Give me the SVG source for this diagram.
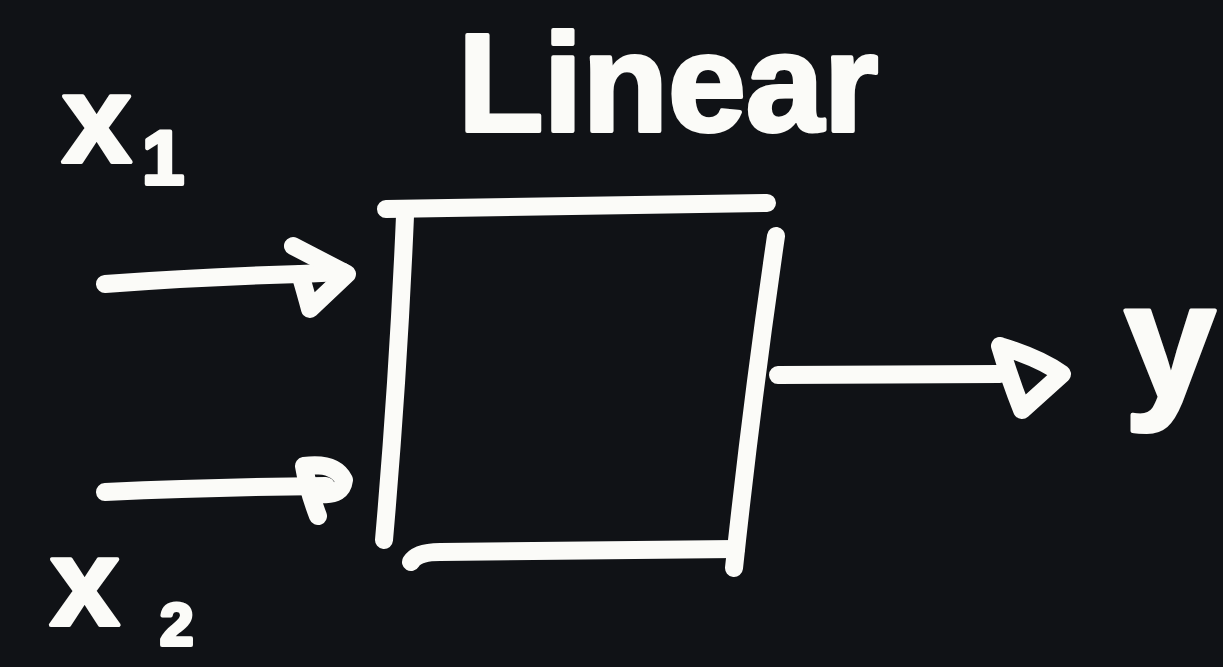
<svg xmlns="http://www.w3.org/2000/svg" width="1223" height="667" viewBox="0 0 1223 667">
<style>
.pen{fill:none;stroke:#fbfbf8;stroke-width:18;stroke-linecap:round;stroke-linejoin:round}
.hand{font-family:"Liberation Sans","DejaVu Sans",sans-serif;font-weight:bold;fill:#fbfbf8;stroke:#fbfbf8;stroke-width:4;stroke-linejoin:round}
</style>
<rect width="1223" height="667" fill="#101216"/>
<g id="linear-block">
<path class="pen" d="M386,209 L767,203"/>
<path class="pen" d="M405,216 Q398,380 384,540"/>
<path class="pen" d="M776,236 Q752,400 734,568"/>
<path class="pen" d="M411,562 Q417,552 440,552 L736,549"/>
<text class="hand" x="458" y="131" font-size="140">Linear</text>
</g>
<g id="input-x1">
<text class="hand" x="62" y="162" font-size="125">x</text>
<text class="hand" x="142" y="184" font-size="76">1</text>
</g>
<g id="input-x2">
<text class="hand" x="50" y="625" font-size="125">x</text>
<text class="hand" x="160" y="645" font-size="60">2</text>
</g>
<g id="output-y">
<text class="hand" x="1124" y="398" font-size="165">y</text>
</g>
<g id="connectors">
<path class="pen" d="M105,284 Q200,277 300,274 L343,272"/>
<path class="pen" d="M293,246 L347,274 L310,309 Q302,280 300,274"/>
<path class="pen" d="M105,492 Q220,487 326,486"/>
<path class="pen" d="M318,516 Q308,490 304,466 Q335,462 344,480 Q342,496 322,494"/>
<path class="pen" d="M778,375 L1000,374"/>
<path class="pen" d="M1000,346 Q1040,358 1062,374 L1022,410 Q1010,380 1000,346"/>
</g>
</svg>
